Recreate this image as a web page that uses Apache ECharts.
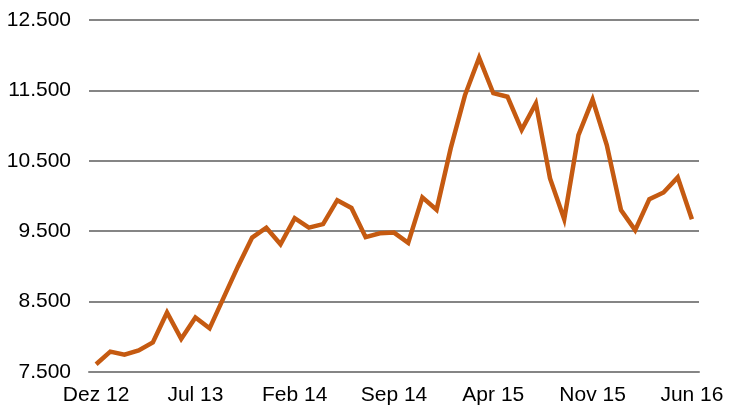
<!DOCTYPE html>
<html>
<head>
<meta charset="utf-8">
<script src="https://cdn.jsdelivr.net/npm/echarts@6/dist/echarts.min.js"></script>
<style>
html,body{margin:0;padding:0;background:#fff;}
#c{width:730px;height:418px;}
</style>
</head>
<body>
<div id="c"></div>
<script>
const months = ['Dez 12','Jan 13','Feb 13','Mär 13','Apr 13','Mai 13','Jun 13','Jul 13','Aug 13','Sep 13','Okt 13','Nov 13','Dez 13',
'Jan 14','Feb 14','Mär 14','Apr 14','Mai 14','Jun 14','Jul 14','Aug 14','Sep 14','Okt 14','Nov 14','Dez 14',
'Jan 15','Feb 15','Mär 15','Apr 15','Mai 15','Jun 15','Jul 15','Aug 15','Sep 15','Okt 15','Nov 15','Dez 15',
'Jan 16','Feb 16','Mär 16','Apr 16','Mai 16','Jun 16'];
const values = [7610,7790,7745,7805,7920,8345,7970,8275,8120,8560,9000,9410,9550,9315,9685,9550,9600,9940,9830,9415,
9470,9480,9335,9980,9805,10680,11430,11965,11460,11410,10940,11315,10250,9670,10865,11370,10725,9800,9515,9955,
10050,10265,9670];
const yMin = 7500, yMax = 12500, yStep = 1000;

function fmt(v){
  const s = String(Math.round(v));
  return s.replace(/\B(?=(\d{3})+(?!\d))/g, '.');
}
const FONT = 'Liberation Sans, Arial, sans-serif';
const chart = echarts.init(document.getElementById('c'), null, {renderer:'canvas'});
const axisGray = '#858585';
chart.setOption({
  animation:false,
  grid:{left:89, right:31, top:20, bottom:46},
  xAxis:[{
    type:'category', data:months, boundaryGap:true,
    axisLine:{lineStyle:{color:axisGray,width:2}},
    axisTick:{interval:6, length:6, lineStyle:{color:axisGray,width:2}},
    axisLabel:{interval:6, margin:13, color:'#000', fontSize:21, fontFamily:FONT},
    splitLine:{show:false}
  },{
    type:'category', data:months, boundaryGap:true, position:'bottom',
    axisLine:{show:false},
    axisTick:{interval:6, inside:true, length:6, lineStyle:{color:axisGray,width:2}},
    axisLabel:{show:false},
    splitLine:{show:false}
  }],
  yAxis:{
    type:'value', min:yMin, max:yMax, interval:yStep,
    axisLine:{show:false}, axisTick:{show:false},
    axisLabel:{margin:18, color:'#000', fontSize:21, fontFamily:FONT, formatter:fmt},
    splitLine:{lineStyle:{color:axisGray,width:2}}
  },
  series:[{
    type:'line', data:values, xAxisIndex:0, showSymbol:false, symbol:'none',
    lineStyle:{color:'#c55a11', width:4.5, join:'miter'},
    itemStyle:{color:'#c55a11'}
  }]
});
</script>
</body>
</html>
